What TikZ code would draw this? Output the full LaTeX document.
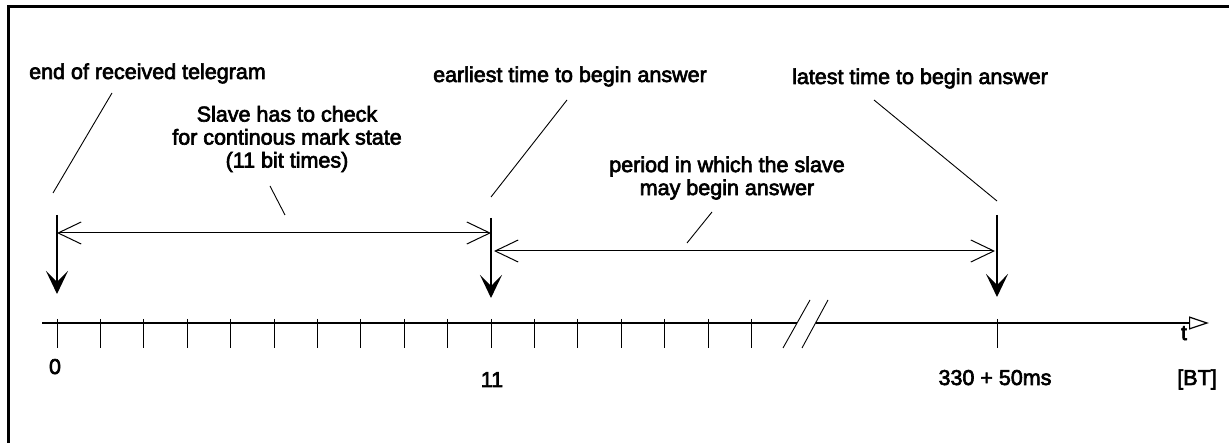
\documentclass[tikz,border=0pt]{standalone}
\usepackage{fontspec}
\setmainfont{Liberation Sans}
\newfontfamily\lblfont[FakeBold=3]{Liberation Sans}
\usetikzlibrary{arrows.meta}
\begin{document}
\begin{tikzpicture}[x=1pt,y=-1pt,
  lbl/.style={font=\lblfont\fontsize{21.5}{23}\selectfont, inner sep=0pt},
  leader/.style={line width=0.9pt},
  bigdown/.style={line width=1.2pt, -{Stealth[length=23pt,width=22pt,inset=11pt]}},
  span/.style={line width=1pt, {Straight Barb[length=23pt,width=22pt]}-{Straight Barb[length=23pt,width=22pt]}},
  tickline/.style={line width=0.9pt},
  axisline/.style={line width=1.2pt},
  frameline/.style={line width=3pt}]
\useasboundingbox (0,0) rectangle (1229,443);
% frame (clipped at right and bottom)
\draw[frameline] (8,446) -- (8,7) -- (1232,7);

% texts
\node[lbl, anchor=base] (endtel) at (147.5,79) {end of received telegram};
\node[lbl, align=center] (slave) at (287,139) {Slave has to check\\for continous mark state\\(11 bit times)};
\node[lbl, anchor=base] (earliest) at (570,82) {earliest time to begin answer};
\node[lbl, align=center] (period) at (727,178) {period in which the slave\\may begin answer};
\node[lbl, anchor=base] (latest) at (920,84) {latest time to begin answer};
\node[lbl, anchor=base] (l0) at (55,374) {0};
\node[lbl, anchor=base] (l11) at (492,387) {11};
\node[lbl, anchor=base] (l330) at (995,385) {330 + 50ms};
\node[lbl, anchor=base] (lbt) at (1197,385) {[BT]};
\node[lbl, anchor=base] (lt) at (1184,340) {t};

% axis
\coordinate (axL) at (42,323);
\coordinate (brA) at (797,323);
\coordinate (brB) at (816,323);
\coordinate (axR) at (1209,323);
\draw[axisline] (axL) -- (brA);
\draw[axisline, -{Triangle[open,length=20pt,width=13pt,fill=white]}] (brB) -- (axR);
\coordinate (bs1a) at (783,348); \coordinate (bs1b) at (810,300);
\coordinate (bs2a) at (802,348); \coordinate (bs2b) at (828,300);
\draw[tickline] (bs1a) -- (bs1b);
\draw[tickline] (bs2a) -- (bs2b);
\foreach \k in {0,...,16} \draw[tickline] ({57+43.4*\k},319) -- ({57+43.4*\k},348);
\draw[tickline] (997,319) -- (997,348);

% big down arrows
\coordinate (d0top) at (57,215);  \coordinate (d0tip) at (57,294);
\coordinate (d11top) at (491,218); \coordinate (d11tip) at (491,298);
\coordinate (d330top) at (997,215); \coordinate (d330tip) at (997,297);
\draw[bigdown] (d0top) -- (d0tip);
\draw[bigdown] (d11top) -- (d11tip);
\draw[bigdown] (d330top) -- (d330tip);

% spans
\coordinate (s1a) at (57,233); \coordinate (s1b) at (491,233);
\coordinate (s2a) at (494,251); \coordinate (s2b) at (995,251);
\draw[span] (s1a) -- (s1b);
\draw[span] (s2a) -- (s2b);

% leaders
\coordinate (e1a) at (112,93);  \coordinate (e1b) at (53,193);
\coordinate (e2a) at (270,186); \coordinate (e2b) at (285,215);
\coordinate (e3a) at (567,100); \coordinate (e3b) at (491,197);
\coordinate (e4a) at (712,212); \coordinate (e4b) at (687,243);
\coordinate (e5a) at (874,100); \coordinate (e5b) at (997,201);
\draw[leader] (e1a) -- (e1b);
\draw[leader] (e2a) -- (e2b);
\draw[leader] (e3a) -- (e3b);
\draw[leader] (e4a) -- (e4b);
\draw[leader] (e5a) -- (e5b);
\end{tikzpicture}
\end{document}
